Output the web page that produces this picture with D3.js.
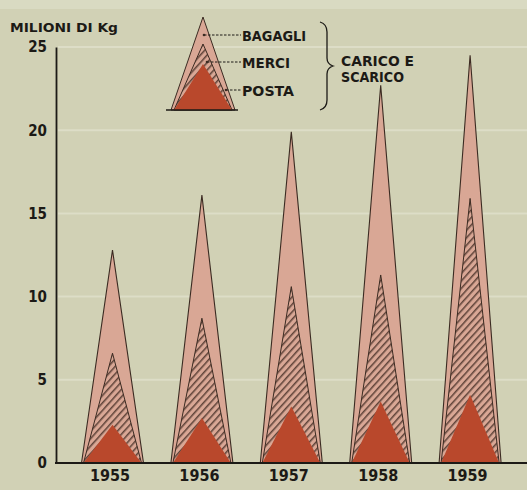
<!DOCTYPE html>
<html><head><meta charset="utf-8">
<script src="https://cdn.jsdelivr.net/npm/d3@7"></script>
<style>
html,body{margin:0;padding:0;background:#d1d1b5;}
svg{display:block;}
text{font-family:"DejaVu Sans Condensed","DejaVu Sans",sans-serif;font-weight:bold;fill:#1c1a16;}
</style></head>
<body>
<svg id="chart" width="527" height="490"></svg>
<script>
// ---- data (milioni di Kg, carico e scarico) ----
const years = ["1955", "1956", "1957", "1958", "1959"];
const bagagli = [12.8, 16.1, 19.9, 22.7, 24.5];   // total (outer triangle)
const merci   = [6.6, 8.7, 10.6, 11.3, 15.9];
const posta   = [2.3, 2.7, 3.4, 3.7, 4.1];
const yTicks  = [0, 5, 10, 15, 20, 25];
const legendLabels = ["BAGAGLI", "MERCI", "POSTA"];

const FONT = "DejaVu Sans Condensed, DejaVu Sans, sans-serif";
const svg = d3.select("#chart");
const W = 527, H = 490;
svg.append("rect").attr("width", W).attr("height", H).attr("fill", "#d1d1b5");
svg.append("rect").attr("width", W).attr("height", 9).attr("fill", "#d9dac2");

const defs = svg.append("defs");
const pat = defs.append("pattern").attr("id", "hatch").attr("patternUnits", "userSpaceOnUse")
  .attr("width", 5).attr("height", 5).attr("patternTransform", "rotate(42)");
pat.append("rect").attr("width", 5).attr("height", 5).attr("fill", "#d9a795");
pat.append("line").attr("x1", 0.8).attr("y1", -1).attr("x2", 0.8).attr("y2", 6)
  .attr("stroke", "#4a3128").attr("stroke-width", 1.3);

const y = d3.scaleLinear().domain([0, 25]).range([463, 47]);
const x = d3.scalePoint().domain(years).range([67.8, 514.8]).padding(0.5);
const half = 31;

// grid lines (light)
svg.append("g").selectAll("line").data(yTicks.filter(d => d > 0)).join("line")
  .attr("x1", 58).attr("x2", W).attr("y1", d => y(d)).attr("y2", d => y(d))
  .attr("stroke", "#e0e1cc").attr("stroke-width", 2).attr("opacity", 0.8);

// triangles
function tri(cx, hw, v) {
  return `M${cx - hw},${y(0)}L${cx},${y(v)}L${cx + hw},${y(0)}Z`;
}
const g = svg.append("g");
years.forEach((yr, i) => {
  const cx = x(yr);
  g.append("path").attr("d", tri(cx, half, bagagli[i])).attr("fill", "#d9a795")
    .attr("stroke", "#3b2b22").attr("stroke-width", 1.1);
  g.append("path").attr("d", tri(cx, half - 2, merci[i])).attr("fill", "url(#hatch)")
    .attr("stroke", "#3b2b22").attr("stroke-width", 1);
  g.append("path").attr("d", tri(cx, half - 2, posta[i])).attr("fill", "#b9482c");
});

// axis
const axis = d3.axisLeft(y).tickValues(yTicks).tickSize(0).tickPadding(9);
const ag = svg.append("g").attr("transform", "translate(56,0)").call(axis);
ag.select(".domain").attr("stroke", "#1c1a16").attr("stroke-width", 1.8);
ag.selectAll("text").attr("font-size", 15).attr("font-family", FONT)
  .attr("font-weight", "bold").attr("fill", "#1c1a16");
// baseline
svg.append("line").attr("x1", 55).attr("x2", W).attr("y1", y(0)).attr("y2", y(0))
  .attr("stroke", "#1c1a16").attr("stroke-width", 1.8);

// year labels
const xAxis = d3.axisBottom(x).tickSize(0).tickPadding(7);
const xg = svg.append("g").attr("transform", `translate(-3,${y(0)})`).call(xAxis);
xg.select(".domain").remove();
xg.selectAll("text").attr("font-size", 16).attr("font-family", FONT)
  .attr("font-weight", "bold").attr("fill", "#1c1a16");

// unit label
svg.append("text").attr("x", 10).attr("y", 32).attr("font-size", 13)
  .attr("textLength", 108).attr("lengthAdjust", "spacingAndGlyphs").text("MILIONI DI Kg");

// legend triangle
const lg = svg.append("g");
const lb = 110, lcx = 203, lhw = 32;
lg.append("path").attr("d", `M${lcx - lhw},${lb}L${lcx},17L${lcx + lhw},${lb}Z`)
  .attr("fill", "#d9a795").attr("stroke", "#3b2b22").attr("stroke-width", 1);
lg.append("path").attr("d", `M${lcx - lhw + 3},${lb}L${lcx},44L${lcx + lhw - 3},${lb}Z`)
  .attr("fill", "url(#hatch)").attr("stroke", "#3b2b22").attr("stroke-width", 1);
lg.append("path").attr("d", `M${lcx - lhw + 3},${lb}L${lcx},64L${lcx + lhw - 3},${lb}Z`)
  .attr("fill", "#b9482c");
lg.append("line").attr("x1", 166).attr("x2", 238).attr("y1", lb).attr("y2", lb)
  .attr("stroke", "#1c1a16").attr("stroke-width", 1.5);
const leadY = [35, 62, 90], leadX = [204, 207, 226], lens = [64, 48, 52];
legendLabels.forEach((t, i) => {
  lg.append("line").attr("x1", leadX[i]).attr("x2", 241).attr("y1", leadY[i]).attr("y2", leadY[i])
    .attr("stroke", "#1c1a16").attr("stroke-width", 1).attr("stroke-dasharray", "2.5,1.5");
  lg.append("circle").attr("cx", leadX[i]).attr("cy", leadY[i]).attr("r", 1.3).attr("fill", "#3b2b22");
  lg.append("text").attr("x", 242).attr("y", leadY[i] + 5.5).attr("font-size", 14)
    .attr("textLength", lens[i]).attr("lengthAdjust", "spacingAndGlyphs").text(t);
});
// brace
lg.append("path").attr("d", "M320,22 Q327,24 327,32 L327,58 Q327,64 333,66 Q327,68 327,74 L327,100 Q327,108 320,110")
  .attr("fill", "none").attr("stroke", "#1c1a16").attr("stroke-width", 1.3);
lg.append("text").attr("x", 341).attr("y", 66).attr("font-size", 14)
  .attr("textLength", 73).attr("lengthAdjust", "spacingAndGlyphs").text("CARICO E");
lg.append("text").attr("x", 341).attr("y", 82).attr("font-size", 14)
  .attr("textLength", 63).attr("lengthAdjust", "spacingAndGlyphs").text("SCARICO");
</script>
</body></html>
